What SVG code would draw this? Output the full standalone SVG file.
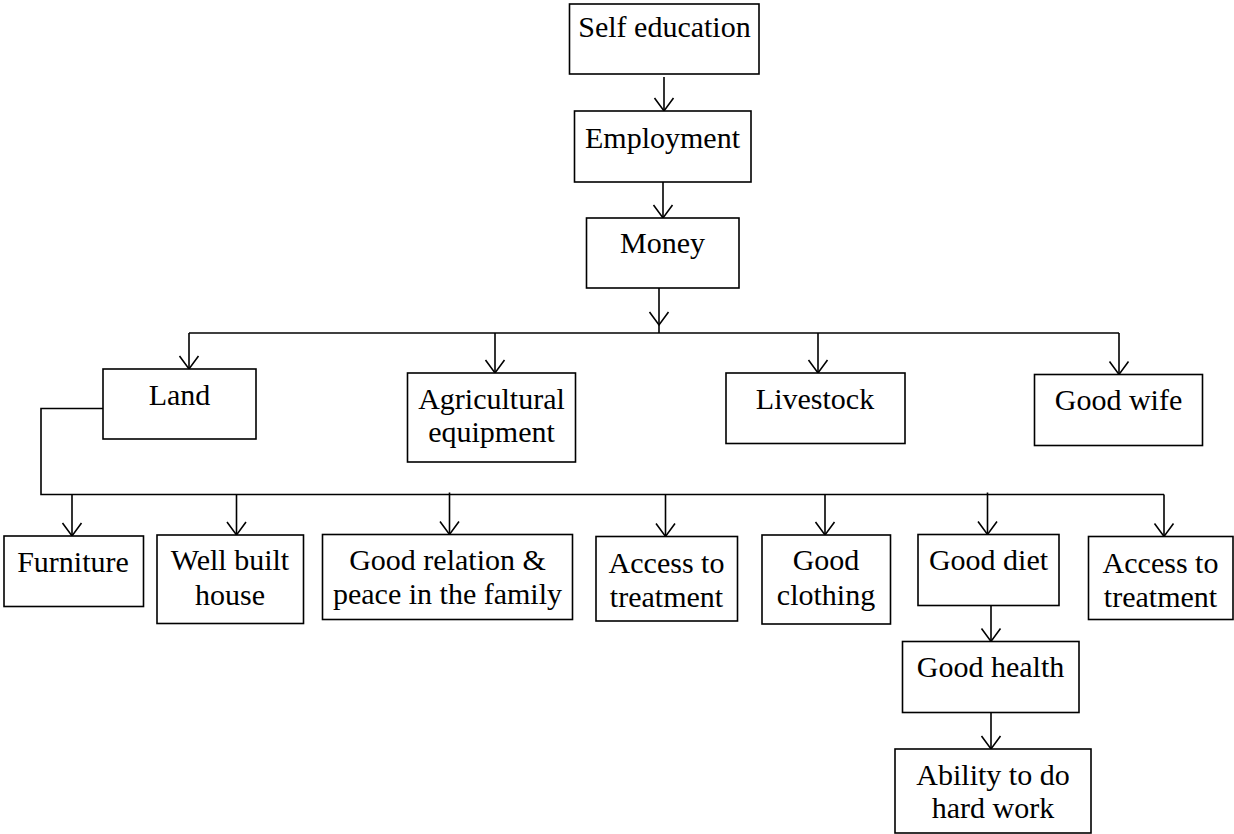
<svg xmlns="http://www.w3.org/2000/svg" width="1234" height="834" viewBox="0 0 1234 834">
  <style>
    .box { fill: #ffffff; stroke: #000000; stroke-width: 1.6; }
    .lbl { font-family: "Liberation Serif", "Times New Roman", serif; font-size: 30px; fill: #000000; text-anchor: middle; }
    .wire { fill: none; stroke: #000000; stroke-width: 1.6; }
    .arr { fill: none; stroke: #000000; stroke-width: 1.6; marker-end: url(#vhead); }
  </style>
  <defs>
    <marker id="vhead" markerUnits="userSpaceOnUse" markerWidth="30" markerHeight="30" viewBox="-15 -15 30 30" refX="0" refY="0" orient="auto" overflow="visible">
      <path d="M-13,-9.5 L0,0 L-13,9.5" fill="none" stroke="#000000" stroke-width="1.6"/>
    </marker>
  </defs>
  <rect width="1234" height="834" fill="#ffffff"/>

  <g id="connectors">
    <!-- main chain -->
    <path class="arr" d="M664,77 V111"/>
    <path class="arr" d="M663,182 V218"/>
    <path class="arr" d="M659,288 V325"/>
    <path class="wire" d="M659,325 V333"/>
    <!-- money fan-out -->
    <path class="wire" d="M189,333 H1119"/>
    <path class="arr" d="M189,333 V369"/>
    <path class="arr" d="M495,333 V373"/>
    <path class="arr" d="M818,333 V373"/>
    <path class="arr" d="M1119,333 V374.5"/>
    <!-- land fan-out -->
    <path class="wire" d="M103,408.5 H41 V494.5 H1164"/>
    <path class="arr" d="M72,494.5 V536"/>
    <path class="arr" d="M236.5,494.5 V535"/>
    <path class="arr" d="M449.5,492.5 V534.5"/>
    <path class="arr" d="M665.5,494.5 V536.5"/>
    <path class="arr" d="M825,494.5 V535"/>
    <path class="arr" d="M987.5,492.5 V534.5"/>
    <path class="arr" d="M1164,494.5 V536.5"/>
    <!-- diet chain -->
    <path class="arr" d="M991,605.5 V641.5"/>
    <path class="arr" d="M991,712.5 V749"/>
  </g>

  <g id="self-education">
    <rect class="box" x="569.5" y="4" width="189.5" height="70"/>
    <text class="lbl" x="664.5" y="37">Self education</text>
  </g>
  <g id="employment">
    <rect class="box" x="574.5" y="111" width="176.5" height="71"/>
    <text class="lbl" x="662.5" y="148">Employment</text>
  </g>
  <g id="money">
    <rect class="box" x="586.5" y="218" width="152.5" height="70"/>
    <text class="lbl" x="662.5" y="253">Money</text>
  </g>

  <g id="land">
    <rect class="box" x="103" y="369" width="153" height="70"/>
    <text class="lbl" x="179.5" y="404.5">Land</text>
  </g>
  <g id="agricultural-equipment">
    <rect class="box" x="407.5" y="373" width="168" height="89"/>
    <text class="lbl" x="491.5" y="409">Agricultural</text>
    <text class="lbl" x="491.5" y="442">equipment</text>
  </g>
  <g id="livestock">
    <rect class="box" x="726" y="373" width="179" height="70.5"/>
    <text class="lbl" x="815" y="409">Livestock</text>
  </g>
  <g id="good-wife">
    <rect class="box" x="1034.5" y="374.5" width="168" height="71"/>
    <text class="lbl" x="1118.5" y="410">Good wife</text>
  </g>

  <g id="furniture">
    <rect class="box" x="4" y="536" width="139.5" height="70.5"/>
    <text class="lbl" x="73" y="572">Furniture</text>
  </g>
  <g id="well-built-house">
    <rect class="box" x="157" y="535" width="146.5" height="88.5"/>
    <text class="lbl" x="230" y="570">Well built</text>
    <text class="lbl" x="230" y="604.5">house</text>
  </g>
  <g id="good-relation">
    <rect class="box" x="322.5" y="534.5" width="250" height="85"/>
    <text class="lbl" x="447.5" y="570">Good relation &amp;</text>
    <text class="lbl" x="447.5" y="604">peace in the family</text>
  </g>
  <g id="access-to-treatment-1">
    <rect class="box" x="596" y="536.5" width="141.5" height="84.5"/>
    <text class="lbl" x="666.5" y="573">Access to</text>
    <text class="lbl" x="666.5" y="606.5">treatment</text>
  </g>
  <g id="good-clothing">
    <rect class="box" x="762" y="535" width="128.5" height="89"/>
    <text class="lbl" x="826" y="570">Good</text>
    <text class="lbl" x="826" y="604.5">clothing</text>
  </g>
  <g id="good-diet">
    <rect class="box" x="918" y="534.5" width="141" height="71"/>
    <text class="lbl" x="988.5" y="570">Good diet</text>
  </g>
  <g id="access-to-treatment-2">
    <rect class="box" x="1088.5" y="536.5" width="144.5" height="83"/>
    <text class="lbl" x="1160.5" y="573">Access to</text>
    <text class="lbl" x="1160.5" y="606.5">treatment</text>
  </g>

  <g id="good-health">
    <rect class="box" x="902.5" y="641.5" width="176.5" height="71"/>
    <text class="lbl" x="990.5" y="677">Good health</text>
  </g>
  <g id="ability-to-work">
    <rect class="box" x="895" y="749" width="196" height="84"/>
    <text class="lbl" x="993" y="784.5">Ability to do</text>
    <text class="lbl" x="993" y="818">hard work</text>
  </g>
</svg>
